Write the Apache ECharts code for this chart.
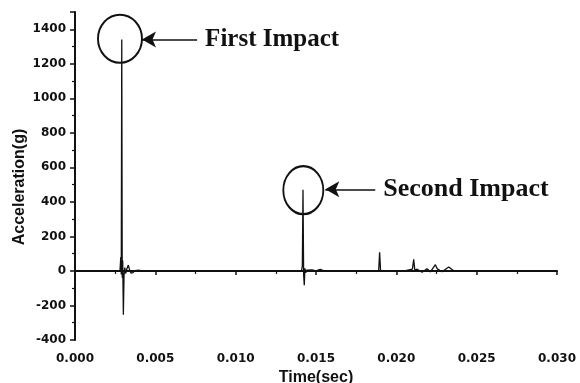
<!DOCTYPE html>
<html>
<head>
<meta charset="utf-8">
<script src="https://cdn.jsdelivr.net/npm/echarts@6/dist/echarts.min.js"></script>
<style>html,body{margin:0;padding:0;background:#fff}#c{width:580px;height:383px}</style>
</head>
<body>
<div id="c"></div>
<script>
// Time (s) samples
const timeSec = [
  0, 0.0010, 0.0020, 0.0028, 0.00285, 0.00288, 0.00291, 0.00294, 0.00297, 0.00301,
  0.00305, 0.0031, 0.00315, 0.00322, 0.00332, 0.0034, 0.00348, 0.00361, 0.0037, 0.0038,
  0.0040, 0.0043, 0.0046, 0.0050, 0.0060, 0.0080, 0.0100, 0.0120, 0.0141, 0.01415,
  0.01419, 0.01423, 0.01427, 0.01431, 0.01436, 0.01442, 0.0145, 0.01475, 0.0150, 0.01526,
  0.0155, 0.0160, 0.0170, 0.0180, 0.0189, 0.01896, 0.01902, 0.01907, 0.01915, 0.0195,
  0.0200, 0.0205, 0.0210, 0.02108, 0.02115, 0.0213, 0.0216, 0.02191, 0.02212, 0.02243,
  0.02255, 0.02285, 0.02326, 0.02355, 0.0240, 0.0260, 0.0280, 0.0298
];
// Acceleration (g) values
const accelG = [
  0, 0, 0, 0, 80, -20, 1340, -40, 60, -254,
  -30, 20, -15, 10, 34, 5, -12, -10, 2, -3,
  4, -3, 2, 0, 1, 0, 0, 0, 0, 30,
  470, -20, -83, 15, -10, 5, 3, 6, 0, 9,
  0, 0, 0, 0, 0, 108, 0, -10, -2, -3,
  0, 0, 10, 67, 5, 10, -8, 13, -5, 36,
  12, -5, 23, 2, 0, 0, 0, 0
];
// Axis ticks
const xTicks = [0, 0.005, 0.010, 0.015, 0.020, 0.025, 0.030];
const yTicks = [-400, -200, 0, 200, 400, 600, 800, 1000, 1200, 1400];
// Annotations (data coordinates)
const circleCenters = [[0.0028, 1345], [0.01421, 468]];
const arrowTips = [[0.00417, 1340], [0.01558, 473]];
const arrowTails = [[0.0076, 1340], [0.01869, 473]];
const annotationTexts = ['First Impact', 'Second Impact'];
const annotationSizes = [25, 26];

const series = timeSec.map((t, i) => [t, accelG[i]]);

const chart = echarts.init(document.getElementById('c'), null, {renderer: 'canvas'});
const tickFont = {fontFamily: 'DejaVu Sans', fontWeight: 'bold', fontSize: 12, color: '#111'};
chart.setOption({
  animation: false,
  backgroundColor: '#fff',
  grid: {left: 75, right: 23, top: 12, bottom: 43, containLabel: false, outerBoundsMode: 'none'},
  xAxis: {
    type: 'value', min: xTicks[0], max: xTicks[xTicks.length - 1], interval: 0.005,
    name: 'Time(sec)', nameLocation: 'middle', nameGap: 26,
    nameTextStyle: {fontFamily: 'Liberation Sans', fontWeight: 'bold', fontSize: 16, color: '#111'},
    axisLine: {lineStyle: {color: '#111', width: 2}},
    axisTick: {show: true, length: 4, lineStyle: {color: '#111', width: 1.5}},
    minorTick: {show: true, splitNumber: 2, length: 3, lineStyle: {color: '#111', width: 1.2}},
    splitLine: {show: false},
    axisLabel: Object.assign({margin: 13, formatter: v => v.toFixed(3)}, tickFont)
  },
  yAxis: {
    type: 'value', min: yTicks[0], max: 1500, interval: 200,
    name: 'Acceleration(g)', nameLocation: 'middle', nameGap: 47, nameMoveOverlap: false,
    nameTextStyle: {fontFamily: 'Liberation Sans', fontWeight: 'bold', fontSize: 16, color: '#111', padding: [0, 0, 0, -22]},
    axisLine: {show: true, lineStyle: {color: '#111', width: 2}},
    axisTick: {show: true, length: 5, lineStyle: {color: '#111', width: 1.5}},
    minorTick: {show: true, splitNumber: 2, length: 3, lineStyle: {color: '#111', width: 1.2}},
    splitLine: {show: false},
    axisLabel: Object.assign({margin: 9, showMaxLabel: false, formatter: v => (yTicks.indexOf(v) >= 0 ? String(v) : '')}, tickFont)
  },
  series: [{
    type: 'line',
    data: series,
    showSymbol: false,
    symbol: 'none',
    lineStyle: {color: '#111', width: 1.3},
    markPoint: {
      silent: true,
      symbol: 'circle',
      label: {show: false},
      itemStyle: {color: 'rgba(0,0,0,0)', borderColor: '#111', borderWidth: 2},
      data: [
        {coord: circleCenters[0], symbolSize: [44, 48]},
        {coord: circleCenters[1], symbolSize: [40, 48]}
      ]
    },
    markLine: {
      silent: true,
      symbol: ['arrow', 'none'],
      symbolSize: [12, 14],
      lineStyle: {color: '#111', width: 1.5, type: 'solid'},
      label: {
        show: true, position: 'end', distance: 8,
        fontFamily: 'Liberation Serif', fontWeight: 'bold', color: '#111'
      },
      data: arrowTips.map((tip, i) => [
        {coord: tip, label: {formatter: annotationTexts[i], fontSize: annotationSizes[i]}},
        {coord: arrowTails[i]}
      ])
    }
  }]
});
</script>
</body>
</html>
